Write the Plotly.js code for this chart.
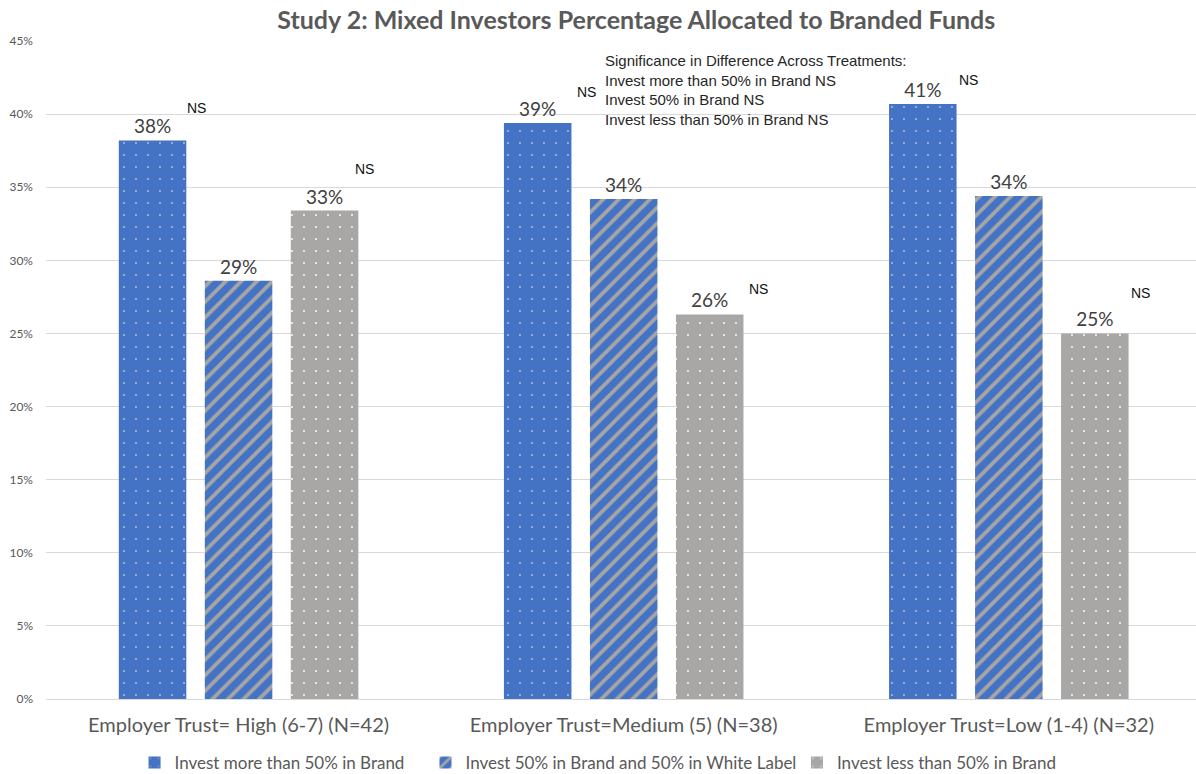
<!DOCTYPE html>
<html>
<head>
<meta charset="utf-8">
<script src="https://cdn.plot.ly/plotly-3.0.1.min.js"></script>
<style>
  html, body { margin: 0; padding: 0; background: #ffffff; }
  #chart { width: 1196px; height: 774px; }
</style>
</head>
<body>
<div id="chart"></div>
<script>
// Employer-trust groups on the x axis
const categories = [
  "Employer Trust= High (6-7) (N=42)",
  "Employer Trust=Medium (5) (N=38)",
  "Employer Trust=Low (1-4) (N=32)"
];

// Share allocated to branded funds, per treatment
const seriesNames = [
  "Invest more than 50% in Brand",
  "Invest 50% in Brand and 50% in White Label",
  "Invest less than 50% in Brand"
];
const moreThanHalf = [0.382, 0.394, 0.407];
const halfHalf     = [0.286, 0.342, 0.344];
const lessThanHalf = [0.334, 0.263, 0.250];

// Significance markers shown beside bars
const nsLabel = "NS";
const sigNote = [
  "Significance in Difference Across Treatments:",
  "Invest more than 50% in Brand NS",
  "Invest 50% in Brand NS",
  "Invest less than 50% in Brand NS"
];

const yTicks = [0, 0.05, 0.10, 0.15, 0.20, 0.25, 0.30, 0.35, 0.40, 0.45];

const BLUE = "#4472C4";
const GRAY = "#A9A6A6";
const FONT = "Lato, 'Open Sans', sans-serif";

function barTrace(name, values, pattern, legendId) {
  return {
    type: "bar",
    name: name,
    legend: legendId,
    x: categories,
    y: values,
    text: values,
    texttemplate: "%{y:.0%}",
    textposition: "outside",
    cliponaxis: false,
    textfont: { family: FONT, size: 19, color: "#404040" },
    marker: { color: pattern.bg, pattern: pattern, line: { width: 0 } },
    hoverinfo: "skip"
  };
}

const traces = [
  barTrace(seriesNames[0], moreThanHalf,
    { shape: ".", bgcolor: BLUE, fgcolor: "#B9C0CC", fgopacity: 1, size: 12, solidity: 0.02, fillmode: "overlay" }, "legend"),
  barTrace(seriesNames[1], halfHalf,
    { shape: "/", bgcolor: BLUE, fgcolor: "#A5A5A5", fgopacity: 1, size: 11, solidity: 0.35, fillmode: "overlay" }, "legend2"),
  barTrace(seriesNames[2], lessThanHalf,
    { shape: ".", bgcolor: GRAY, fgcolor: "#FFFFFF", fgopacity: 1, size: 12, solidity: 0.02, fillmode: "overlay" }, "legend3")
];

// NS markers: [category index offset, y value] next to individual bars
const nsSpots = [
  [0 - 0.140, 0.4042], [0 + 0.296, 0.3625],
  [1 - 0.127, 0.4151], [1 + 0.3195, 0.2804],
  [2 - 0.135, 0.4233], [2 + 0.312, 0.2777]
];

const annotations = nsSpots.map(p => ({
  x: p[0], y: p[1], xref: "x", yref: "y",
  text: nsLabel, showarrow: false,
  xanchor: "left", yanchor: "middle",
  font: { family: "'Liberation Sans', Arial, sans-serif", size: 14, color: "#111111" }
}));

annotations.push({
  x: 0.484, y: 0.925, xref: "paper", yref: "paper",
  text: sigNote.join("<br>"), showarrow: false,
  xanchor: "left", yanchor: "middle", align: "left",
  font: { family: "'Liberation Sans', Arial, sans-serif", size: 15, color: "#262626" }
});

function legendAt(xPaper) {
  return {
    orientation: "h",
    x: xPaper, xanchor: "left",
    y: -0.097, yanchor: "middle",
    font: { family: FONT, size: 17, color: "#595959" },
    itemwidth: 30,
    bgcolor: "rgba(0,0,0,0)"
  };
}

const layout = {
  width: 1196,
  height: 774,
  margin: { l: 46, r: 0, t: 41, b: 75, autoexpand: false },
  paper_bgcolor: "#ffffff",
  plot_bgcolor: "#ffffff",
  title: {
    text: "<b>Study 2: Mixed Investors Percentage Allocated to Branded Funds</b>",
    x: 0.532, xanchor: "center",
    y: 0.974, yanchor: "middle",
    font: { family: FONT, size: 25, color: "#595959" }
  },
  barmode: "group",
  bargap: 0.33,
  bargroupgap: 0.215,
  showlegend: true,
  legend: legendAt(0.077),
  legend2: legendAt(0.330),
  legend3: legendAt(0.653),
  xaxis: {
    type: "category",
    range: [-0.5, 2.486],
    showgrid: false,
    showline: true,
    linecolor: "#D9D9D9",
    linewidth: 1,
    ticks: "",
    ticklabelstandoff: 8,
    tickfont: { family: FONT, size: 20, color: "#595959" },
    fixedrange: true
  },
  yaxis: {
    range: [0, 0.45],
    tickvals: yTicks,
    tickformat: ".0%",
    showgrid: true,
    gridcolor: "#D9D9D9",
    gridwidth: 1,
    zeroline: false,
    showline: false,
    ticks: "",
    ticklabelstandoff: 12,
    tickfont: { family: FONT, size: 12, color: "#595959" },
    fixedrange: true
  },
  annotations: annotations
};

Plotly.newPlot("chart", traces, layout, { displayModeBar: false, staticPlot: true });
</script>
</body>
</html>
